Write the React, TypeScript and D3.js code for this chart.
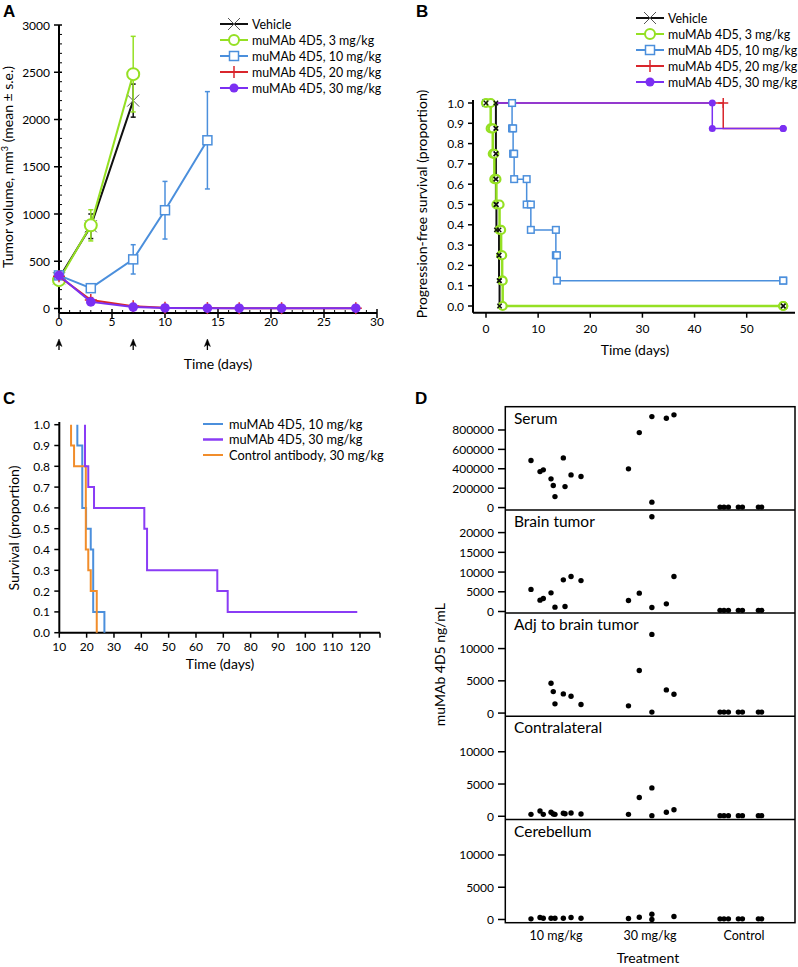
import React from "react";
import * as d3 from "d3";

const FONT = "Lato, 'Open Sans', 'Noto Sans', sans-serif";
const C_GREEN = "#95e023";
const C_BLUE = "#4b8fdc";
const C_RED = "#d9262c";
const C_PURPLE = "#7b2ff2";
const C_ORANGE = "#f18d2b";
const C_BLACK = "#111111";
const LEG_FS = 12.4;
const TICK_FS = 12;
const TITLE_FS = 14;

// ===== Panel A: tumor volume (mean ± s.e.) =====
const aVehicleDays = [0, 3, 7];
const aVehicleMean = [320, 870, 2200];
const aVehicleSE = [25, 130, 175];
const a3Days = [0, 3, 7];
const a3Mean = [300, 880, 2480];
const a3SE = [20, 165, 400];
const a10Days = [0, 3, 7, 10, 14];
const a10Mean = [350, 215, 520, 1040, 1780];
const a10SE = [25, 30, 155, 305, 515];
const a20Days = [0, 3, 7, 10, 14, 17, 21, 28];
const a20Mean = [340, 90, 25, 8, 4, 3, 3, 3];
const a20SE = [20, 25, 8, 4, 2, 1, 1, 1];
const a30Days = [0, 3, 7, 10, 14, 17, 21, 28];
const a30Mean = [350, 70, 15, 6, 3, 3, 3, 3];
const a30SE = [25, 15, 6, 3, 1, 1, 1, 1];
const aDoseDays = [0, 7, 14];
const aXTicks = [0, 5, 10, 15, 20, 25, 30];
const aYTicks = [0, 500, 1000, 1500, 2000, 2500, 3000];

const seriesNames = [
  "Vehicle",
  "muMAb 4D5, 3 mg/kg",
  "muMAb 4D5, 10 mg/kg",
  "muMAb 4D5, 20 mg/kg",
  "muMAb 4D5, 30 mg/kg",
];

// ===== Panel B: progression-free survival (Kaplan–Meier) =====
const bVehicleT = [0, 1.9, 1.9, 1.9, 1.9, 2.0, 2.5, 2.5, 2.6, 57];
const bVehicleS = [1, 0.875, 0.75, 0.625, 0.5, 0.375, 0.25, 0.125, 0, 0];
const b3T = [0, 0.9, 1.3, 1.6, 2.0, 2.6, 2.9, 3.1, 3.2, 57];
const b3S = [1, 0.875, 0.75, 0.625, 0.5, 0.375, 0.25, 0.125, 0, 0];
const b10T = [0, 5.0, 5.2, 5.4, 7.8, 8.6, 13.4, 13.6, 57];
const b10S = [1, 0.875, 0.75, 0.625, 0.5, 0.375, 0.25, 0.125, 0.125];
const b20T = [0, 45.5, 57];
const b20S = [1, 0.875, 0.875];
const b30T = [0, 43.4, 57];
const b30S = [1, 0.875, 0.875];
const bXTicks = [0, 10, 20, 30, 40, 50];
const bYTicks = [0, 0.1, 0.2, 0.3, 0.4, 0.5, 0.6, 0.7, 0.8, 0.9, 1.0];

// ===== Panel C: overall survival =====
const c10T = [16.6, 16.6, 18.4, 19.8, 21.5, 22.4, 26.5];
const c10S = [1, 0.9, 0.6, 0.5, 0.4, 0.1, 0];
const c30T = [19.4, 19.4, 20.6, 22.7, 41.1, 42.1, 67.8, 71.6, 119];
const c30S = [1, 0.8, 0.7, 0.6, 0.5, 0.3, 0.2, 0.1, 0.1];
const cCtrlT = [14.3, 14.3, 15.4, 19.7, 20.6, 21.5, 23.7];
const cCtrlS = [1, 0.9, 0.8, 0.4, 0.3, 0.2, 0];
const cXTicks = [10, 20, 30, 40, 50, 60, 70, 80, 90, 100, 110, 120];
const cYTicks = [0, 0.1, 0.2, 0.3, 0.4, 0.5, 0.6, 0.7, 0.8, 0.9, 1.0];
const cNames = ["muMAb 4D5, 10 mg/kg", "muMAb 4D5, 30 mg/kg", "Control antibody, 30 mg/kg"];

// ===== Panel D: muMAb 4D5 concentrations (group index, animal index, value) =====
const dGroups = ["10 mg/kg", "30 mg/kg", "Control"];
const dSerum = [
  [0, 0, 485000], [0, 1, 371000], [0, 2, 389000], [0, 3, 296000], [0, 4, 227000],
  [0, 5, 113000], [0, 6, 512000], [0, 7, 216000], [0, 8, 337000], [0, 9, 320000],
  [1, 0, 399000], [1, 1, 773000], [1, 2, 56000], [1, 3, 938000], [1, 4, 921000], [1, 5, 956000],
  [2, 0, 5000], [2, 1, 5000], [2, 2, 5000], [2, 3, 5000], [2, 4, 5000], [2, 5, 5000], [2, 6, 5000],
];
const dBrainTumor = [
  [0, 0, 5600], [0, 1, 2880], [0, 2, 3290], [0, 3, 4730], [0, 5, 1110],
  [0, 6, 8020], [0, 7, 1270], [0, 8, 8860], [0, 9, 7840],
  [1, 0, 2780], [1, 1, 4650], [1, 2, 1010], [1, 3, 24000], [1, 4, 1950], [1, 5, 8860],
  [2, 0, 300], [2, 1, 300], [2, 2, 300], [2, 3, 300], [2, 4, 300], [2, 5, 300], [2, 6, 300],
];
const dAdjTumor = [
  [0, 3, 4615], [0, 4, 3330], [0, 5, 1430], [0, 6, 2970], [0, 8, 2615], [0, 9, 1340],
  [1, 0, 1120], [1, 1, 6610], [1, 2, 12200], [1, 3, 150], [1, 4, 3590], [1, 5, 2920],
  [2, 0, 150], [2, 1, 150], [2, 2, 150], [2, 3, 150], [2, 4, 150], [2, 5, 150], [2, 6, 150],
];
const dContralateral = [
  [0, 0, 300], [0, 1, 810], [0, 2, 300], [0, 3, 620], [0, 4, 350],
  [0, 5, 300], [0, 6, 460], [0, 7, 400], [0, 8, 500], [0, 9, 350],
  [1, 0, 300], [1, 1, 2920], [1, 2, 4400], [1, 3, 100], [1, 4, 620], [1, 5, 1020],
  [2, 0, 100], [2, 1, 100], [2, 2, 100], [2, 3, 100], [2, 4, 100], [2, 5, 100], [2, 6, 100],
];
const dCerebellum = [
  [0, 0, 100], [0, 1, 300], [0, 2, 200], [0, 3, 200], [0, 5, 200],
  [0, 6, 200], [0, 8, 300], [0, 9, 200],
  [1, 0, 150], [1, 1, 350], [1, 2, 800], [1, 3, 0], [1, 5, 460],
  [2, 0, 100], [2, 1, 100], [2, 2, 100], [2, 3, 100], [2, 4, 100], [2, 5, 100], [2, 6, 100],
];
const dTissues = ["Serum", "Brain tumor", "Adj to brain tumor", "Contralateral", "Cerebellum"];
const dDomains = [[-24000, 1040000], [-400, 25750], [-500, 15500], [-500, 15500], [-500, 15500]];
const dTicks = [
  [0, 200000, 400000, 600000, 800000],
  [0, 5000, 10000, 15000, 20000],
  [0, 5000, 10000],
  [0, 5000, 10000],
  [0, 5000, 10000],
];
// horizontal jitter of each animal inside its group (fraction of group spacing)
const dJitter = [
  [-0.266, -0.17, -0.135, -0.053, -0.029, -0.011, 0.078, 0.096, 0.16, 0.266],
  [-0.229, -0.114, 0.02, 0.02, 0.174, 0.255],
  [-0.255, -0.213, -0.166, -0.06, -0.017, 0.153, 0.188],
];

type MT = "x" | "circle" | "square" | "plus" | "dot";

function Marker({ type, x, y, color, s, sw = 1.5 }: { type: MT; x: number; y: number; color: string; s: number; sw?: number }) {
  if (type === "x")
    return (
      <g stroke={color} strokeWidth={sw}>
        <line x1={x - s} y1={y - s} x2={x + s} y2={y + s} />
        <line x1={x - s} y1={y + s} x2={x + s} y2={y - s} />
      </g>
    );
  if (type === "plus")
    return (
      <g stroke={color} strokeWidth={sw}>
        <line x1={x - s} y1={y} x2={x + s} y2={y} />
        <line x1={x} y1={y - s} x2={x} y2={y + s} />
      </g>
    );
  if (type === "circle") return <circle cx={x} cy={y} r={s} fill="#fff" stroke={color} strokeWidth={sw} />;
  if (type === "square")
    return <rect x={x - s} y={y - s} width={2 * s} height={2 * s} fill="#fff" stroke={color} strokeWidth={sw} />;
  return <circle cx={x} cy={y} r={s} fill={color} />;
}

const seriesStyle: { color: string; marker: MT }[] = [
  { color: C_BLACK, marker: "x" },
  { color: C_GREEN, marker: "circle" },
  { color: C_BLUE, marker: "square" },
  { color: C_RED, marker: "plus" },
  { color: C_PURPLE, marker: "dot" },
];

function LegendAB({ x0, y0, dy }: { x0: number; y0: number; dy: number }) {
  const sizes = [6, 5, 4.5, 6, 4.5];
  const sws = [1, 2, 1.5, 1.5, 1];
  return (
    <g>
      {seriesNames.map((n, i) => {
        const y = y0 + i * dy;
        const st = seriesStyle[i];
        return (
          <g key={n}>
            <line x1={x0} x2={x0 + 28} y1={y} y2={y} stroke={st.color} strokeWidth={2} />
            <Marker type={st.marker} x={x0 + 14} y={y} color={i === 0 ? "#555" : st.color} s={sizes[i]} sw={sws[i]} />
            <text x={x0 + 32} y={y + 4.5} fontSize={LEG_FS}>{n}</text>
          </g>
        );
      })}
    </g>
  );
}

function PanelA() {
  const x = d3.scaleLinear().domain([0, 30]).range([59, 377]);
  const y = d3.scaleLinear().domain([0, 3000]).range([308.5, 25]);
  const axisY = 313;
  const series = [
    { d: aVehicleDays, m: aVehicleMean, e: aVehicleSE },
    { d: a3Days, m: a3Mean, e: a3SE },
    { d: a10Days, m: a10Mean, e: a10SE },
    { d: a20Days, m: a20Mean, e: a20SE },
    { d: a30Days, m: a30Mean, e: a30SE },
  ];
  const order = [0, 1, 2, 3, 4];
  const sizes = [6, 6, 4.5, 6, 4.8];
  const sws = [1, 2, 1.5, 1.5, 1];
  const line = d3.line<[number, number]>().x((p) => x(p[0])).y((p) => y(p[1]));
  const minorY = d3.range(0, 3001, 100).filter((v) => v % 500 !== 0);
  const minorX = d3.range(0, 31, 1).filter((v) => v % 5 !== 0);
  return (
    <g>
      <text x={3} y={17} fontSize={17} fontWeight="bold" fontFamily="Arial, 'Liberation Sans', sans-serif">A</text>
      <line x1={59} x2={59} y1={25} y2={axisY} stroke="#000" strokeWidth={2} />
      <line x1={59} x2={x(30)} y1={axisY} y2={axisY} stroke="#000" strokeWidth={2} />
      {aYTicks.map((t) => (
        <g key={t}>
          <line x1={54} x2={62} y1={y(t)} y2={y(t)} stroke="#000" strokeWidth={1.5} />
          <text x={50} y={y(t) + 4.5} fontSize={TICK_FS} textAnchor="end">{t}</text>
        </g>
      ))}
      {minorY.map((t) => (
        <line key={t} x1={59} x2={62} y1={y(t)} y2={y(t)} stroke="#000" strokeWidth={1} />
      ))}
      {aXTicks.map((t) => (
        <g key={t}>
          <line x1={x(t)} x2={x(t)} y1={axisY - 4} y2={axisY + 5} stroke="#000" strokeWidth={1.5} />
          <text x={x(t)} y={axisY + 12.5} fontSize={TICK_FS} textAnchor="middle">{t}</text>
        </g>
      ))}
      {minorX.map((t) => (
        <line key={t} x1={x(t)} x2={x(t)} y1={axisY - 3} y2={axisY} stroke="#000" strokeWidth={1} />
      ))}
      {aDoseDays.map((t) => (
        <g key={t} fill="#000" stroke="#000">
          <line x1={x(t)} x2={x(t)} y1={343} y2={350} strokeWidth={1.3} />
          <path d={`M${x(t)},${339} L${x(t) - 3},${346.5} L${x(t)},${344.5} L${x(t) + 3},${346.5} Z`} strokeWidth={0.5} />
        </g>
      ))}
      <text x={218} y={369} fontSize={TITLE_FS} textAnchor="middle">Time (days)</text>
      <text transform="translate(13,167) rotate(-90)" fontSize={TITLE_FS} textAnchor="middle">
        Tumor volume, mm<tspan fontSize={9} dy={-5}>3</tspan>
        <tspan dy={5}> (mean ± s.e.)</tspan>
      </text>
      {order.map((i) => {
        const s = series[i];
        const st = seriesStyle[i];
        const pts = s.d.map((d, k) => [d, s.m[k]] as [number, number]);
        return (
          <g key={i}>
            <path d={line(pts) || ""} fill="none" stroke={st.color} strokeWidth={2} />
            {s.d.map((d, k) => (
              <g key={k} stroke={st.color} strokeWidth={1.5}>
                <line x1={x(d)} x2={x(d)} y1={y(s.m[k] - s.e[k])} y2={y(s.m[k] + s.e[k])} />
                <line x1={x(d) - 2.5} x2={x(d) + 2.5} y1={y(s.m[k] + s.e[k])} y2={y(s.m[k] + s.e[k])} />
                <line x1={x(d) - 2.5} x2={x(d) + 2.5} y1={y(s.m[k] - s.e[k])} y2={y(s.m[k] - s.e[k])} />
              </g>
            ))}
            {s.d.map((d, k) => (
              <Marker key={"m" + k} type={st.marker} x={x(d)} y={y(s.m[k])} color={i === 0 ? "#555" : st.color} s={sizes[i]} sw={sws[i]} />
            ))}
          </g>
        );
      })}
      <LegendAB x0={220} y0={24} dy={16} />
    </g>
  );
}

function kmCorners(t: number[], s: number[]) {
  const out: [number, number][] = [];
  t.forEach((ti, i) => {
    if (i > 0) out.push([ti, s[i - 1]]);
    out.push([ti, s[i]]);
  });
  return out;
}

function PanelB() {
  const x = d3.scaleLinear().domain([0, 50]).range([486, 746.7]);
  const y = d3.scaleLinear().domain([0, 1]).range([306, 103]);
  const axisY = 312.7;
  const axisX = 473;
  const line = d3.line<[number, number]>().x((p) => x(p[0])).y((p) => y(p[1])).curve(d3.curveStepAfter);
  const data = [
    { t: bVehicleT, s: bVehicleS },
    { t: b3T, s: b3S },
    { t: b10T, s: b10S },
    { t: b20T, s: b20S },
    { t: b30T, s: b30S },
  ];
  const lineOrder = [2, 3, 4, 0, 1];
  const markerOrder = [2, 3, 4, 1, 0];
  const widths = [2, 2.5, 1.5, 1.5, 1.5];
  const sizes = [2.2, 4, 3.3, 5, 3.5];
  const sws = [1.3, 2.2, 1.5, 1.5, 1];
  return (
    <g>
      <text x={416} y={17} fontSize={17} fontWeight="bold" fontFamily="Arial, 'Liberation Sans', sans-serif">B</text>
      <line x1={axisX} x2={axisX} y1={100} y2={axisY} stroke="#000" strokeWidth={2} />
      <line x1={axisX} x2={795} y1={axisY} y2={axisY} stroke="#000" strokeWidth={2} />
      {bYTicks.map((t) => (
        <g key={t}>
          <line x1={axisX - 5} x2={axisX} y1={y(t)} y2={y(t)} stroke="#000" strokeWidth={1.5} />
          <text x={axisX - 9} y={y(t) + 4.5} fontSize={TICK_FS} textAnchor="end">{t.toFixed(1)}</text>
        </g>
      ))}
      {bXTicks.map((t) => (
        <g key={t}>
          <line x1={x(t)} x2={x(t)} y1={axisY} y2={axisY + 5} stroke="#000" strokeWidth={1.5} />
          <text x={x(t)} y={axisY + 20} fontSize={TICK_FS} textAnchor="middle">{t}</text>
        </g>
      ))}
      <text x={635} y={355} fontSize={TITLE_FS} textAnchor="middle">Time (days)</text>
      <text transform="translate(427,204) rotate(-90)" fontSize={TITLE_FS} textAnchor="middle">
        Progression-free survival (proportion)
      </text>
      {lineOrder.map((i) => {
        const d = data[i];
        const pts = d.t.map((t, k) => [t, d.s[k]] as [number, number]);
        return <path key={i} d={line(pts) || ""} fill="none" stroke={seriesStyle[i].color} strokeWidth={widths[i]} />;
      })}
      {markerOrder.map((i) => {
        const d = data[i];
        const st = seriesStyle[i];
        let corners = kmCorners(d.t, d.s);
        if (i === 3) corners = corners.filter((p) => p[0] === d.t[1] && p[1] === 1);
        return (
          <g key={"m" + i}>
            {corners.map((p, k) => (
              <Marker key={k} type={st.marker} x={x(p[0])} y={y(p[1])} color={st.color} s={sizes[i]} sw={sws[i]} />
            ))}
          </g>
        );
      })}
      <LegendAB x0={636} y0={18} dy={16} />
    </g>
  );
}

function PanelC() {
  const x = d3.scaleLinear().domain([10, 120]).range([59.3, 360]);
  const y = d3.scaleLinear().domain([0, 1]).range([632.7, 424.7]);
  const axisY = 632.7;
  const line = d3.line<[number, number]>().x((p) => x(p[0])).y((p) => y(p[1])).curve(d3.curveStepAfter);
  const data = [
    { t: c10T, s: c10S, color: C_BLUE, w: 2 },
    { t: cCtrlT, s: cCtrlS, color: C_ORANGE, w: 2 },
    { t: c30T, s: c30S, color: "#8a3cf5", w: 2 },
  ];
  const legendColors = [C_BLUE, "#8a3cf5", C_ORANGE];
  return (
    <g>
      <text x={3} y={404} fontSize={17} fontWeight="bold" fontFamily="Arial, 'Liberation Sans', sans-serif">C</text>
      <line x1={59.3} x2={59.3} y1={422} y2={axisY} stroke="#000" strokeWidth={2} />
      <line x1={59.3} x2={380} y1={axisY} y2={axisY} stroke="#000" strokeWidth={2} />
      {cYTicks.map((t) => (
        <g key={t}>
          <line x1={54.3} x2={59.3} y1={y(t)} y2={y(t)} stroke="#000" strokeWidth={1.5} />
          <text x={50} y={y(t) + 4.5} fontSize={TICK_FS} textAnchor="end">{t.toFixed(1)}</text>
        </g>
      ))}
      {cXTicks.map((t) => (
        <g key={t}>
          <line x1={x(t)} x2={x(t)} y1={axisY} y2={axisY + 5} stroke="#000" strokeWidth={1.5} />
          <text x={x(t)} y={axisY + 18.5} fontSize={TICK_FS} textAnchor="middle">{t}</text>
        </g>
      ))}
      <line x1={380} x2={380} y1={axisY} y2={axisY + 5} stroke="#000" strokeWidth={1.5} />
      <text x={220} y={669} fontSize={TITLE_FS} textAnchor="middle">Time (days)</text>
      <text transform="translate(19,528) rotate(-90)" fontSize={TITLE_FS} textAnchor="middle">
        Survival (proportion)
      </text>
      {data.map((d, i) => {
        const pts = d.t.map((t, k) => [t, d.s[k]] as [number, number]);
        return <path key={i} d={line(pts) || ""} fill="none" stroke={d.color} strokeWidth={d.w} />;
      })}
      {cNames.map((n, i) => {
        const yy = 424 + i * 15.5;
        return (
          <g key={n}>
            <line x1={203} x2={223} y1={yy} y2={yy} stroke={legendColors[i]} strokeWidth={i === 1 ? 2.5 : 2} />
            <text x={229} y={yy + 4.5} fontSize={LEG_FS + 0.4}>{n}</text>
          </g>
        );
      })}
    </g>
  );
}

function PanelD() {
  const left = 505.3;
  const right = 795;
  const top = 406.7;
  const bottom = 922.7;
  const h = (bottom - top) / dTissues.length;
  const x = d3.scaleLinear().domain([0, 3]).range([509, 791]);
  const datasets = [dSerum, dBrainTumor, dAdjTumor, dContralateral, dCerebellum];
  const fmt = d3.format("d");
  return (
    <g>
      <text x={415} y={404} fontSize={17} fontWeight="bold" fontFamily="Arial, 'Liberation Sans', sans-serif">D</text>
      {dTissues.map((name, i) => {
        const t0 = top + i * h;
        const y = d3.scaleLinear().domain(dDomains[i]).range([t0 + h, t0]);
        return (
          <g key={name}>
            <text x={514} y={t0 + 17} fontSize={15.5}>{name}</text>
            {dTicks[i].map((t) => (
              <g key={t}>
                <line x1={498} x2={left} y1={y(t)} y2={y(t)} stroke="#000" strokeWidth={1.5} />
                <text x={494} y={y(t) + 4.5} fontSize={TICK_FS} textAnchor="end">{fmt(t)}</text>
              </g>
            ))}
            {datasets[i].map((p, k) => (
              <circle key={k} cx={x(p[0] + 0.5 + dJitter[p[0]][p[1]])} cy={y(p[2])} r={2.7} fill="#000" />
            ))}
            {i > 0 && <line x1={left} x2={right} y1={t0} y2={t0} stroke="#000" strokeWidth={1.5} />}
          </g>
        );
      })}
      <rect x={left} y={top} width={right - left} height={bottom - top} fill="none" stroke="#000" strokeWidth={1.5} />
      {dGroups.map((g, i) => (
        <text key={g} x={x(i + 0.5)} y={939.5} fontSize={TICK_FS + 0.5} textAnchor="middle">{g}</text>
      ))}
      <text x={648} y={963} fontSize={TITLE_FS} textAnchor="middle">Treatment</text>
      <text transform="translate(445,664.7) rotate(-90)" fontSize={TITLE_FS} textAnchor="middle">
        muMAb 4D5 ng/mL
      </text>
    </g>
  );
}

export default function App() {
  return (
    <svg
      width={798}
      height={967}
      style={{ position: "absolute", left: 0, top: 0, background: "#fff" }}
      fontFamily={FONT}
    >
      <rect x={0} y={0} width={798} height={967} fill="#fff" />
      <PanelA />
      <PanelB />
      <PanelC />
      <PanelD />
    </svg>
  );
}
